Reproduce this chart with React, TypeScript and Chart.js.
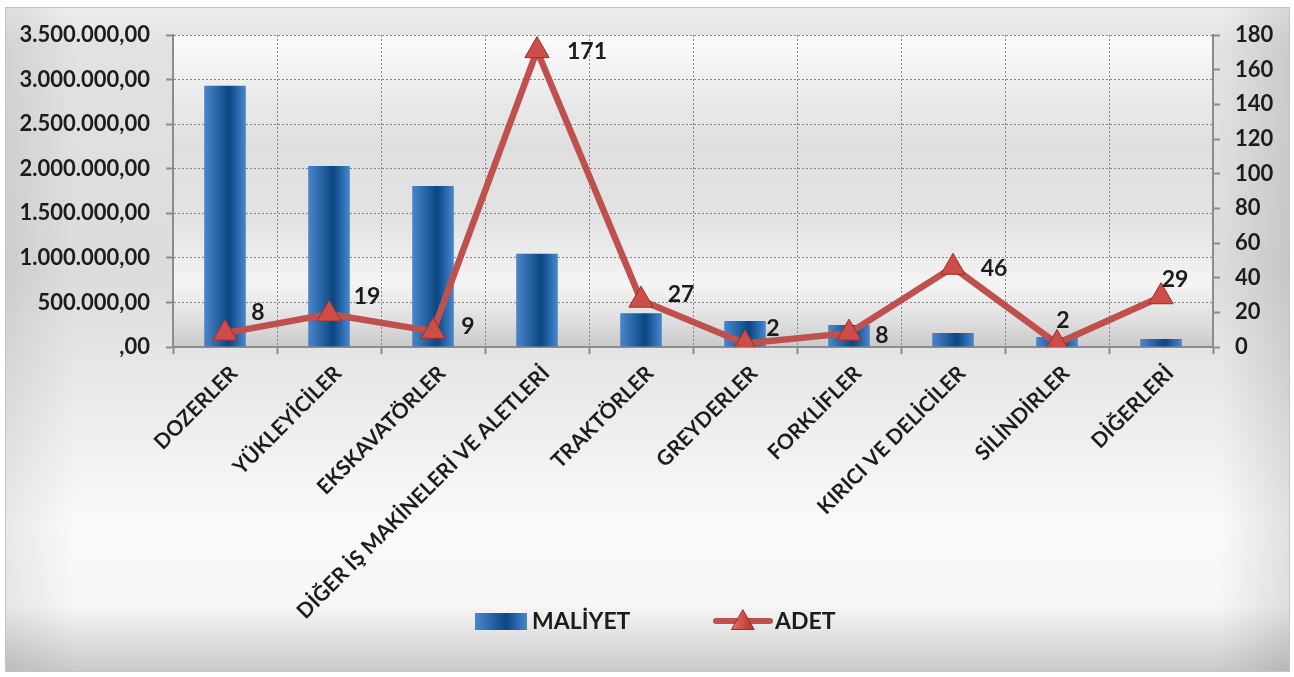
import React, { useEffect, useRef } from "react";
import { Chart, registerables } from "chart.js";

Chart.register(...registerables);

const categories = [
  "DOZERLER",
  "YÜKLEYİCİLER",
  "EKSKAVATÖRLER",
  "DİĞER İŞ MAKİNELERİ VE ALETLERİ",
  "TRAKTÖRLER",
  "GREYDERLER",
  "FORKLİFLER",
  "KIRICI VE DELİCİLER",
  "SİLİNDİRLER",
  "DİĞERLERİ",
];
const maliyet = [2930000, 2030000, 1805000, 1045000, 380000, 292000, 247000, 158000, 112000, 90000];
const adet = [8, 19, 9, 171, 27, 2, 8, 46, 2, 29];
const seriesNames = ["MALİYET", "ADET"];
// label placement offsets (px) relative to each point, as placed in the source
const labelDx = [33, 38, 35, 50, 40, 28, 33, 41, 6, 14];
const labelDy = [-21, -17, -5, 1, -6, -15, 2, 1, -23, -17];

const FONT = "Lato, 'Open Sans', sans-serif";
const TEXT = "#1c1c1c";
const RED = "#c0504d";
const BAR_PCT = 0.4;

function trFormat(v: number): string {
  const int = Math.floor(Math.abs(v));
  const s = int === 0 ? "" : String(int).replace(/\B(?=(\d{3})+(?!\d))/g, ".");
  return s + ",00";
}

function barGradient(ctx: CanvasRenderingContext2D, x0: number, x1: number) {
  const g = ctx.createLinearGradient(x0, 0, x1, 0);
  g.addColorStop(0, "#4a86c8");
  g.addColorStop(0.3, "#2a66aa");
  g.addColorStop(0.6, "#0b4681");
  g.addColorStop(0.85, "#2f6fb4");
  g.addColorStop(1, "#4b88ca");
  return g;
}

function drawTriangle(ctx: CanvasRenderingContext2D, x: number, y: number, r: number) {
  ctx.beginPath();
  for (let i = 0; i < 3; i++) {
    const a = -Math.PI / 2 + (i * 2 * Math.PI) / 3;
    const px = x + r * Math.cos(a);
    const py = y + r * Math.sin(a);
    if (i === 0) ctx.moveTo(px, py);
    else ctx.lineTo(px, py);
  }
  ctx.closePath();
  const g = ctx.createLinearGradient(x - r, y, x + r, y);
  g.addColorStop(0, "#e0706c");
  g.addColorStop(0.5, "#cf4d48");
  g.addColorStop(1, "#a8322f");
  ctx.fillStyle = g;
  ctx.fill();
  ctx.lineWidth = 1;
  ctx.strokeStyle = "#9a2f2c";
  ctx.stroke();
}

const backgroundPlugin = {
  id: "bg",
  beforeDraw(chart: any) {
    const { ctx, width, height, chartArea } = chart;
    ctx.save();
    ctx.fillStyle = "#ffffff";
    ctx.fillRect(0, 0, width, height);
    const fx = 5, fy = 7, fw = width - 9, fh = height - 12;
    const g = ctx.createLinearGradient(0, fy, 0, fy + fh);
    g.addColorStop(0, "#eeeeee");
    g.addColorStop(0.06, "#e2e2e2");
    g.addColorStop(0.4, "#dcdcdc");
    g.addColorStop(0.55, "#e7e7e7");
    g.addColorStop(0.78, "#fafafa");
    g.addColorStop(0.9, "#f6f6f6");
    g.addColorStop(1, "#c9c9c9");
    ctx.fillStyle = g;
    ctx.fillRect(fx, fy, fw, fh);
    const gl = ctx.createLinearGradient(fx, 0, fx + 70, 0);
    gl.addColorStop(0, "rgba(0,0,0,0.07)");
    gl.addColorStop(1, "rgba(0,0,0,0)");
    ctx.fillStyle = gl;
    ctx.fillRect(fx, fy, 70, fh);
    const gr = ctx.createLinearGradient(fx + fw - 70, 0, fx + fw, 0);
    gr.addColorStop(0, "rgba(0,0,0,0)");
    gr.addColorStop(1, "rgba(0,0,0,0.1)");
    ctx.fillStyle = gr;
    ctx.fillRect(fx + fw - 70, fy, 70, fh);
    ctx.strokeStyle = "#c4c4c4";
    ctx.lineWidth = 1;
    ctx.strokeRect(fx + 0.5, fy + 0.5, fw - 1, fh - 1);

    const { left, right, top, bottom } = chartArea;
    const pg = ctx.createLinearGradient(0, top, 0, bottom);
    pg.addColorStop(0, "#fcfcfc");
    pg.addColorStop(0.15, "#eeeeee");
    pg.addColorStop(0.35, "#dfdfdf");
    pg.addColorStop(0.6, "#e3e3e3");
    pg.addColorStop(0.8, "#f4f4f4");
    pg.addColorStop(0.92, "#dedede");
    pg.addColorStop(1, "#c9c9c9");
    ctx.fillStyle = pg;
    ctx.fillRect(left, top, right - left, bottom - top);
    ctx.restore();
  },
};

const labelsPlugin = {
  id: "lineLabels",
  afterDatasetsDraw(chart: any) {
    const { ctx } = chart;
    const meta = chart.getDatasetMeta(1);
    ctx.save();
    ctx.font = `bold 23px ${FONT}`;
    ctx.fillStyle = TEXT;
    ctx.textAlign = "center";
    ctx.textBaseline = "middle";
    meta.data.forEach((el: any, i: number) => {
      ctx.fillText(String(adet[i]), el.x + labelDx[i], el.y + labelDy[i]);
    });
    ctx.restore();
  },
};

const legendPlugin = {
  id: "customLegend",
  afterDraw(chart: any) {
    const { ctx } = chart;
    const cy = 621;
    ctx.save();
    ctx.fillStyle = barGradient(ctx, 475, 527);
    ctx.fillRect(475, cy - 8, 52, 17);
    ctx.font = `bold 23px ${FONT}`;
    ctx.fillStyle = TEXT;
    ctx.textAlign = "left";
    ctx.textBaseline = "middle";
    ctx.fillText(seriesNames[0], 532, cy + 1);
    ctx.strokeStyle = RED;
    ctx.lineWidth = 6;
    ctx.lineCap = "round";
    ctx.beginPath();
    ctx.moveTo(716, cy);
    ctx.lineTo(770, cy);
    ctx.stroke();
    drawTriangle(ctx, 743, cy + 2, 13);
    ctx.fillStyle = TEXT;
    ctx.fillText(seriesNames[1], 775, cy + 1);
    ctx.restore();
  },
};

export default function App() {
  const ref = useRef<HTMLCanvasElement>(null);

  useEffect(() => {
    if (!ref.current) return;
    const chart = new Chart(ref.current, {
      data: {
        labels: categories,
        datasets: [
          {
            type: "bar",
            label: seriesNames[0],
            data: maliyet,
            yAxisID: "y",
            order: 2,
            barPercentage: BAR_PCT,
            categoryPercentage: 1,
            borderWidth: 0,
            backgroundColor: (c: any) => {
              const chart = c.chart;
              const xs = chart.scales?.x;
              if (!chart.chartArea || !xs || c.dataIndex === undefined) return "#2a66aa";
              const cx = xs.getPixelForValue(c.dataIndex);
              const w = (xs.width / categories.length) * BAR_PCT;
              return barGradient(chart.ctx, cx - w / 2, cx + w / 2);
            },
          } as any,
          {
            type: "line",
            label: seriesNames[1],
            data: adet,
            yAxisID: "y1",
            order: 1,
            borderColor: RED,
            borderWidth: 6.5,
            tension: 0,
            pointStyle: "triangle",
            pointRadius: 14,
            pointHoverRadius: 14,
            pointBackgroundColor: "#cf4d48",
            pointBorderColor: "#9a2f2c",
            pointBorderWidth: 1,
          } as any,
        ],
      },
      options: {
        animation: false,
        responsive: true,
        maintainAspectRatio: false,
        layout: { padding: { top: 35, left: 0, right: 0, bottom: 0 } },
        plugins: {
          legend: { display: false },
          tooltip: { enabled: false },
        },
        scales: {
          x: {
            grid: {
              display: true,
              offset: true,
              color: "#858585",
              lineWidth: 1,
              drawTicks: true,
              tickLength: 7,
              tickColor: "#8c8c8c",
              tickWidth: 2,
            },
            border: { display: true, color: "#8c8c8c", width: 2, dash: [2, 2] },
            ticks: {
              autoSkip: false,
              minRotation: 45,
              maxRotation: 45,
              color: TEXT,
              font: { family: FONT, size: 21, weight: "bold" },
              padding: 7,
              labelOffset: 9,
            },
            afterFit: (s: any) => {
              s.height = 330;
            },
          },
          y: {
            position: "left",
            min: 0,
            max: 3500000,
            grid: {
              color: "#858585",
              lineWidth: 1,
              tickLength: 7,
              tickColor: "#8c8c8c",
              tickWidth: 2,
            },
            border: { display: true, color: "#8c8c8c", width: 2, dash: [2, 2] },
            ticks: {
              stepSize: 500000,
              color: TEXT,
              font: { family: FONT, size: 22, weight: "bold" },
              padding: 16,
              callback: (v: any) => trFormat(Number(v)),
            },
            afterFit: (s: any) => {
              s.width = 173;
            },
          },
          y1: {
            position: "right",
            min: 0,
            max: 180,
            grid: {
              drawOnChartArea: false,
              tickLength: 7,
              tickColor: "#8c8c8c",
              tickWidth: 2,
            },
            border: { display: true, color: "#8c8c8c", width: 2 },
            ticks: {
              stepSize: 20,
              color: TEXT,
              font: { family: FONT, size: 22, weight: "bold" },
              padding: 15,
            },
            afterFit: (s: any) => {
              s.width = 81;
            },
          },
        },
      } as any,
      plugins: [backgroundPlugin, labelsPlugin, legendPlugin],
    });
    return () => chart.destroy();
  }, []);

  return (
    <div style={{ position: "absolute", left: 0, top: 0, width: 1294, height: 677 }}>
      <canvas ref={ref} />
    </div>
  );
}
